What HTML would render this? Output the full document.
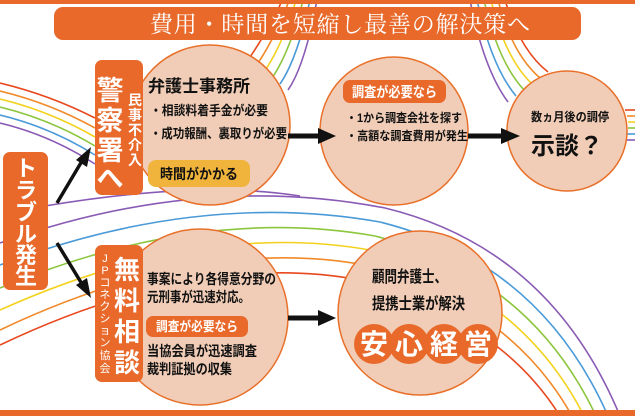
<!DOCTYPE html>
<html><head><meta charset="utf-8"><style>
body{margin:0;background:#fff}
svg{display:block}
text{font-family:"Liberation Sans","Noto Sans CJK JP",sans-serif;font-weight:bold}
</style></head><body>
<svg width="635" height="416" viewBox="0 0 635 416" xmlns="http://www.w3.org/2000/svg">
<rect width="635" height="416" fill="#fff"/>
<g fill="none" stroke-width="1.6">
 <g>
  <path d="M0 83 Q50 95 95 118" stroke="#e8481e"/>
  <path d="M0 91 Q50 103 95 128" stroke="#f08a2a"/>
  <path d="M0 99 Q50 111 95 137" stroke="#f3d21e"/>
  <path d="M0 107 Q50 119 95 146" stroke="#8cc63e"/>
  <path d="M0 115 Q50 127 95 155" stroke="#4a9ad8"/>
  <path d="M0 123 Q50 135 95 164" stroke="#8a5bb5"/>
 </g>
 <g>
  <path d="M248 60 Q262 40 278 10 L282 0" stroke="#e8481e"/>
  <path d="M256 66 Q270 46 285 12 L289 0" stroke="#f08a2a"/>
  <path d="M264 72 Q278 52 292 14 L296 0" stroke="#f3d21e"/>
  <path d="M272 78 Q286 58 299 16 L303 0" stroke="#8cc63e"/>
  <path d="M280 84 Q294 64 306 18 L310 0" stroke="#4a9ad8"/>
  <path d="M288 90 Q302 70 313 20 L317 0" stroke="#8a5bb5"/>
 </g>
 <g>
  <path d="M505 0 Q520 50 548 72" stroke="#e8481e"/>
  <path d="M498 0 Q512 54 540 78" stroke="#f08a2a"/>
  <path d="M491 0 Q505 58 532 84" stroke="#f3d21e"/>
  <path d="M484 0 Q498 62 524 90" stroke="#8cc63e"/>
  <path d="M477 0 Q491 66 516 96" stroke="#4a9ad8"/>
  <path d="M470 0 Q484 70 508 102" stroke="#8a5bb5"/>
 </g>
 <g>
  <path d="M625 110 L635 110" stroke="#e8481e"/>
  <path d="M627 116 L635 116" stroke="#f08a2a"/>
  <path d="M628 122 L635 122" stroke="#f3d21e"/>
  <path d="M628 128 L635 128" stroke="#8cc63e"/>
  <path d="M627 134 L635 134" stroke="#4a9ad8"/>
  <path d="M626 140 L635 140" stroke="#8a5bb5"/>
 </g>
 <g>
  <path d="M0 345 Q200 250 360 280 Q500 320 560 416" stroke="#e8481e"/>
  <path d="M0 330 Q200 235 365 265 Q510 305 572 416" stroke="#f08a2a"/>
  <path d="M0 310 Q200 220 370 250 Q520 290 584 416" stroke="#f3d21e"/>
  <path d="M0 288 Q200 205 375 236 Q530 276 596 416" stroke="#8cc63e"/>
  <path d="M0 265 Q200 190 380 222 Q540 262 608 416" stroke="#4a9ad8"/>
  <path d="M0 243 Q200 172 385 208 Q550 248 620 416" stroke="#8a5bb5"/>
  <path d="M45 206 Q200 180 300 196" stroke="#8a5bb5"/>
 </g>
</g>
<rect x="0" y="0" width="635" height="4" fill="#e8692a"/>
<rect x="0" y="410" width="635" height="6" fill="#e8692a"/>
<rect x="54" y="7" width="527" height="33" rx="9" fill="#e8692a"/>
<text x="340" y="32" text-anchor="middle" fill="#fff" font-size="23" textLength="380" style="font-family:'Liberation Serif','Noto Serif CJK SC',serif;font-weight:normal">費用・時間を短縮し最善の解決策へ</text>
<g fill="#f1cdb7" stroke="#e8702a" stroke-width="1.5">
 <circle cx="210" cy="125" r="80"/>
 <circle cx="394" cy="131" r="74"/>
 <circle cx="567" cy="131" r="60"/>
 <circle cx="200" cy="317" r="88"/>
 <circle cx="420" cy="313" r="82"/>
</g>
<g fill="#111" stroke="#111">
 <line x1="288" y1="136" x2="322" y2="136" stroke-width="5"/>
 <polygon points="318,128 336,136 318,144" stroke="none"/>
 <line x1="468" y1="136" x2="505" y2="136" stroke-width="5"/>
 <polygon points="501,128 520,136 501,144" stroke="none"/>
 <line x1="288" y1="318" x2="322" y2="318" stroke-width="5"/>
 <polygon points="318,310 336,318 318,326" stroke="none"/>
 <line x1="57" y1="203" x2="82" y2="161" stroke-width="3.5"/>
 <polygon points="76,160 91,147 87,167" stroke="none"/>
 <line x1="57" y1="243" x2="82" y2="284" stroke-width="3.5"/>
 <polygon points="76,285 91,298 87,278" stroke="none"/>
</g>
<rect x="3" y="152" width="45" height="138" rx="7" fill="#e8692a"/>
<text fill="#fff" font-size="22" text-anchor="middle"><tspan x="26" y="176">ト</tspan><tspan x="26" y="198">ラ</tspan><tspan x="26" y="220">ブ</tspan><tspan x="26" y="242">ル</tspan><tspan x="26" y="263">発</tspan><tspan x="26" y="284">生</tspan></text>
<rect x="95" y="60" width="48" height="135" rx="7" fill="#e8692a"/>
<text fill="#fff" font-size="27" text-anchor="middle"><tspan x="110" y="100">警</tspan><tspan x="110" y="130">察</tspan><tspan x="110" y="160">署</tspan><tspan x="110" y="188">へ</tspan></text>
<text fill="#fff" font-size="14" text-anchor="middle"><tspan x="135" y="105">民</tspan><tspan x="135" y="120">事</tspan><tspan x="135" y="135">不</tspan><tspan x="135" y="150">介</tspan><tspan x="135" y="165">入</tspan></text>
<rect x="95" y="245" width="48" height="137" rx="7" fill="#e8692a"/>
<text fill="#fff" font-size="26" text-anchor="middle"><tspan x="127" y="279">無</tspan><tspan x="127" y="310">料</tspan><tspan x="127" y="341">相</tspan><tspan x="127" y="372">談</tspan></text>
<text fill="#fff" font-size="11" text-anchor="middle" style="font-weight:normal"><tspan x="105" y="262">J</tspan><tspan x="105" y="274">P</tspan><tspan x="105" y="286">コ</tspan><tspan x="105" y="298">ネ</tspan><tspan x="105" y="310">ク</tspan><tspan x="105" y="322">シ</tspan><tspan x="105" y="334">ョ</tspan><tspan x="105" y="346">ン</tspan><tspan x="105" y="359">協</tspan><tspan x="105" y="372">会</tspan></text>
<g lengthAdjust="spacingAndGlyphs">
<text x="148" y="92" font-size="17" fill="#111" textLength="102" lengthAdjust="spacingAndGlyphs">弁護士事務所</text>
<text x="150" y="115" font-size="13" fill="#111" textLength="118" lengthAdjust="spacingAndGlyphs">・相談料着手金が必要</text>
<text x="150" y="138" font-size="13" fill="#111" textLength="137" lengthAdjust="spacingAndGlyphs">・成功報酬、裏取りが必要</text>
<rect x="148" y="160" width="102" height="27" rx="8" fill="#f0b43c"/>
<text x="160" y="179" font-size="14" fill="#111" textLength="78" lengthAdjust="spacingAndGlyphs">時間がかかる</text>
<rect x="343" y="80" width="103" height="23" rx="7" fill="#e8692a"/>
<text x="352" y="97" font-size="14" fill="#fff" textLength="85" lengthAdjust="spacingAndGlyphs">調査が必要なら</text>
<text x="346" y="122" font-size="12" fill="#111" textLength="116" lengthAdjust="spacingAndGlyphs">・1から調査会社を探す</text>
<text x="346" y="140" font-size="12" fill="#111" textLength="122" lengthAdjust="spacingAndGlyphs">・高額な調査費用が発生</text>
<text x="531" y="121" font-size="12" fill="#111" textLength="78" lengthAdjust="spacingAndGlyphs">数ヵ月後の調停</text>
<text x="567" y="154" font-size="24" fill="#111" text-anchor="middle">示談？</text>
<text x="147" y="284" font-size="14" fill="#111" textLength="129" lengthAdjust="spacingAndGlyphs">事案により各得意分野の</text>
<text x="147" y="302" font-size="14" fill="#111" textLength="103" lengthAdjust="spacingAndGlyphs">元刑事が迅速対応。</text>
<rect x="146" y="316" width="102" height="21" rx="7" fill="#e8692a"/>
<text x="156" y="331" font-size="13" fill="#fff" textLength="82" lengthAdjust="spacingAndGlyphs">調査が必要なら</text>
<text x="147" y="356" font-size="14" fill="#111" textLength="110" lengthAdjust="spacingAndGlyphs">当協会員が迅速調査</text>
<text x="147" y="374" font-size="14" fill="#111" textLength="85" lengthAdjust="spacingAndGlyphs">裁判証拠の収集</text>
<text x="372" y="282" font-size="16" fill="#111" textLength="75" lengthAdjust="spacingAndGlyphs">顧問弁護士、</text>
<text x="372" y="309" font-size="16" fill="#111" textLength="93" lengthAdjust="spacingAndGlyphs">提携士業が解決</text>
</g>
<g fill="#e8692a">
 <circle cx="374" cy="344" r="20"/><circle cx="409" cy="344" r="20"/><circle cx="444" cy="344" r="20"/><circle cx="478" cy="344" r="20"/>
</g>
<text fill="#fff" font-size="28" text-anchor="middle"><tspan x="374" y="354">安</tspan><tspan x="409" y="354">心</tspan><tspan x="444" y="354">経</tspan><tspan x="478" y="354">営</tspan></text>
</svg>
</body></html>
